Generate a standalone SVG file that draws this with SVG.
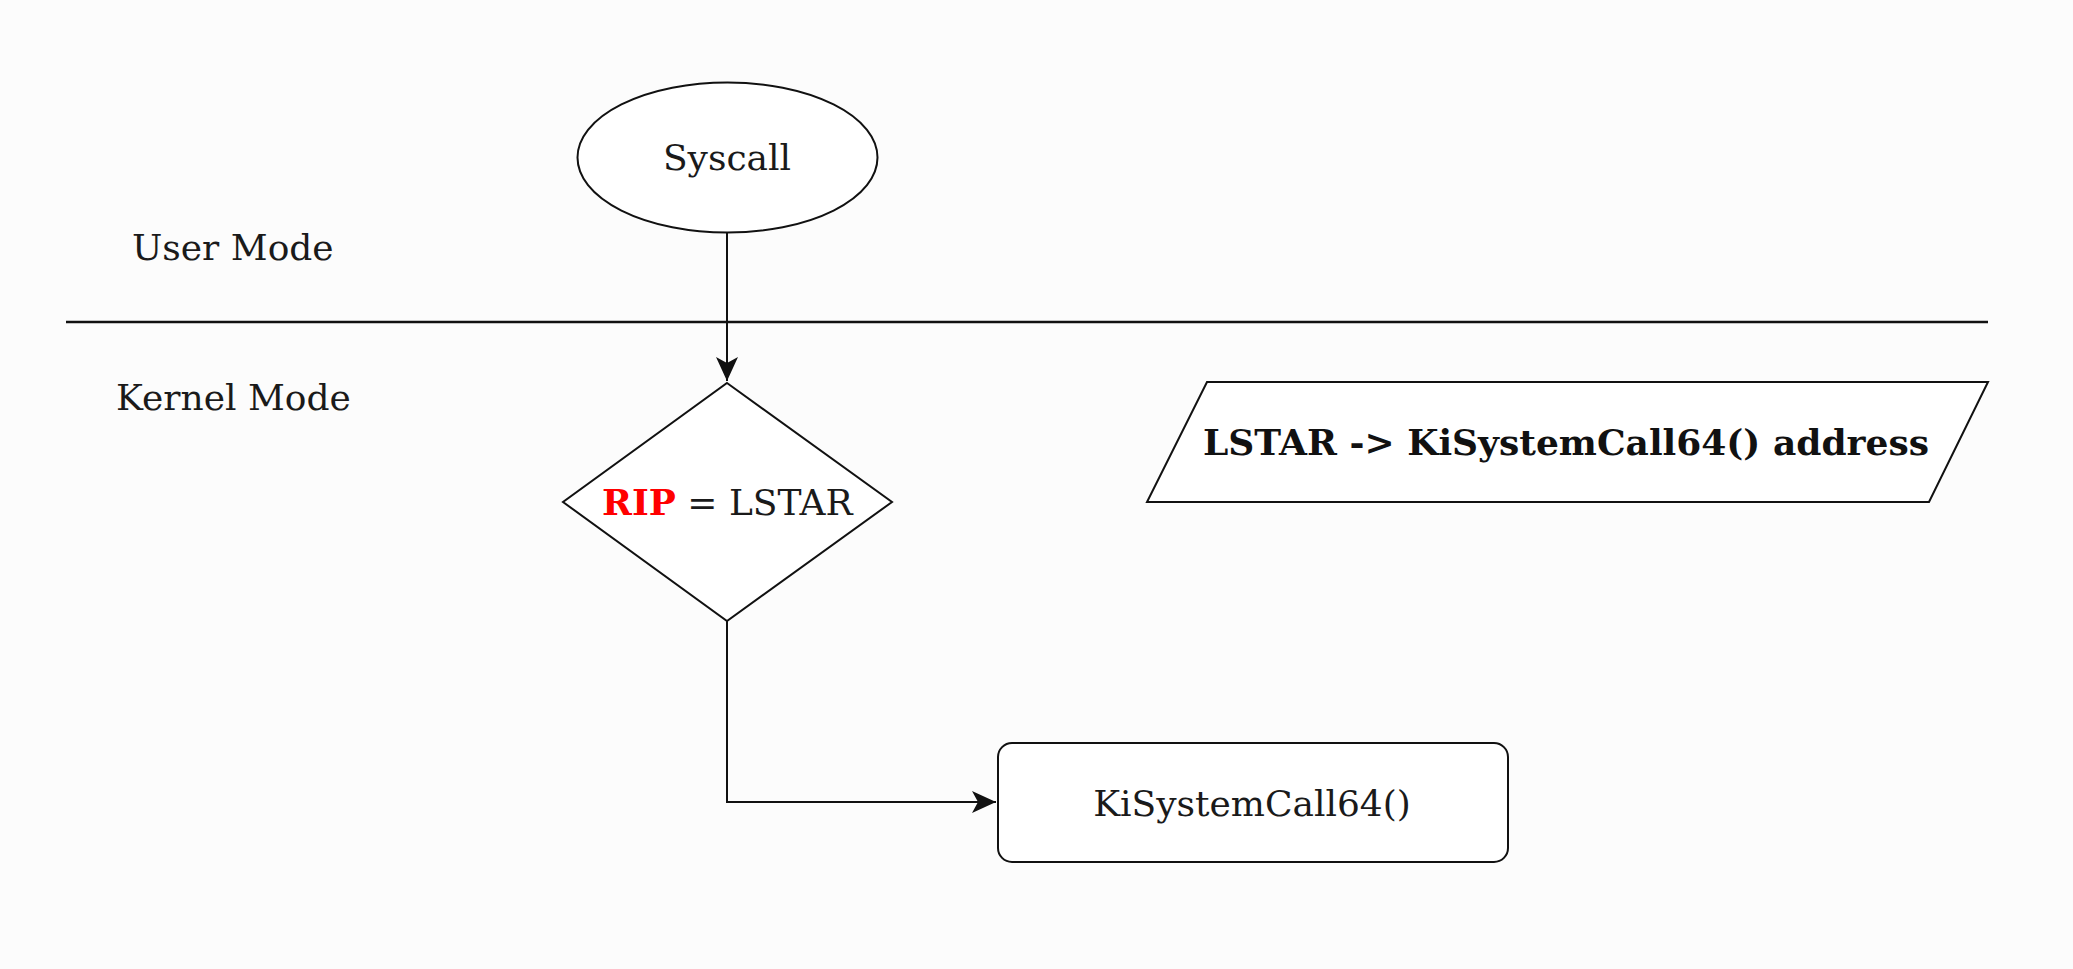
<svg xmlns="http://www.w3.org/2000/svg" width="2073" height="969" viewBox="0 0 2073 969">
<style>
.shape{fill:#ffffff;stroke:#111111;stroke-width:2}
.edge{fill:none;stroke:#111111;stroke-width:2}
.t{font-family:"DejaVu Serif","Liberation Serif",serif;font-size:36px;fill:#1a1a1a}
.b{font-weight:bold;fill:#111111}
</style>
<defs>
<marker id="arr" markerUnits="userSpaceOnUse" markerWidth="26" markerHeight="24" refX="24" refY="11" orient="auto">
<path d="M0,0 L24,11 L0,22 L6,11 Z" fill="#111111"/>
</marker>
</defs>
<rect width="2073" height="969" fill="#fcfcfc"/>
<line x1="66" y1="322" x2="1988" y2="322" stroke="#111111" stroke-width="2.5"/>
<text class="t" x="132" y="260">User Mode</text>
<text class="t" x="116" y="410">Kernel Mode</text>
<g id="connectors">
<path class="edge" d="M727,233 L727,381" marker-end="url(#arr)"/>
<path class="edge" d="M727,621 L727,802 L996,802" marker-end="url(#arr)"/>
</g>
<g id="syscall">
<ellipse class="shape" cx="727.5" cy="157.5" rx="150" ry="75"/>
<text class="t" x="727" y="170" text-anchor="middle">Syscall</text>
</g>
<g id="rip">
<polygon class="shape" points="727,383 892,502 727,621 563,502"/>
<text class="t" x="602" y="515"><tspan class="b" fill="#ff0000" style="fill:#ff0000">RIP</tspan> = LSTAR</text>
</g>
<g id="lstar">
<polygon class="shape" points="1207,382 1988,382 1929,502 1147,502"/>
<text class="t b" x="1566" y="455" text-anchor="middle">LSTAR -&gt; KiSystemCall64() address</text>
</g>
<g id="kisyscall">
<rect class="shape" x="998" y="743" width="510" height="119" rx="14" ry="14"/>
<text class="t" x="1252" y="816" text-anchor="middle">KiSystemCall64()</text>
</g>
</svg>
